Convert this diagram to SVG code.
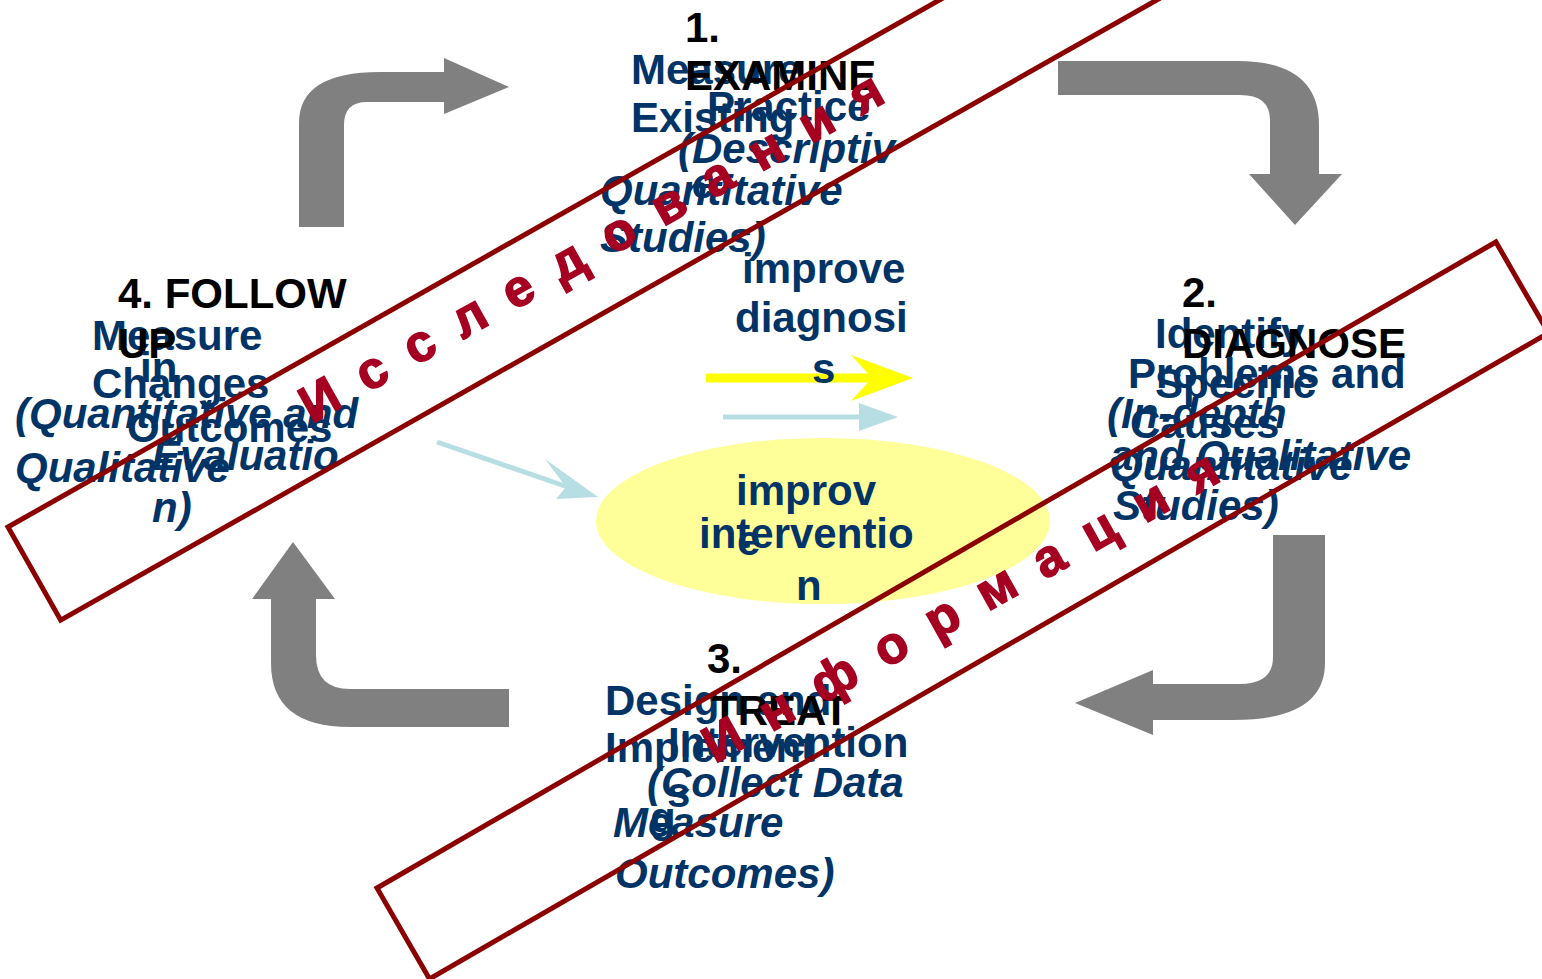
<svg xmlns="http://www.w3.org/2000/svg" width="1542" height="979" viewBox="0 0 1542 979">
<style>
text{font-family:"Liberation Sans",Arial,sans-serif;font-weight:bold;font-size:42px}
.k{fill:#000}
.b{fill:#003366}
.i{fill:#003366;font-style:italic}
.g{fill:#808080}
.stamp{fill:none;stroke:#8B0000;stroke-width:5}
.red{fill:#A50021;stroke:#A50021;stroke-width:1.5;font-size:52px}
</style>
<rect width="1542" height="979" fill="#fff"/>
<g id="connectors">
<path class="g" d="M299,227 L299,123 Q299,72 380,72 L444,72 L444,58 L509,87 L444,114 L444,102 L367,102 Q344,102 344,125 L344,227 Z"/>
<path class="g" d="M1058,61 L1237,61 Q1319,61 1319,125 L1319,174 L1342,174 L1295,225 L1249,174 L1270,174 L1270,120 Q1270,95 1240,95 L1058,95 Z"/>
<path class="g" d="M1273,535 L1325,535 L1325,663 Q1325,720 1233,720 L1153,720 L1153,735 L1075,703 L1153,670 L1153,684 L1240,684 Q1273,684 1273,657 Z"/>
<path class="g" d="M509,689 L350,689 Q316,689 316,655 L316,599 L335,599 L293,542 L252,599 L271,599 L271,663 Q271,727 350,727 L509,727 Z"/>
<line x1="706" y1="378" x2="872" y2="378" stroke="#FFFF00" stroke-width="9"/>
<path d="M851,355 L913,378 L851,401 L872,378 Z" fill="#FFFF00"/>
<line x1="723" y1="417" x2="862" y2="417" stroke="#B7DEE3" stroke-width="5"/>
<path d="M859,403 L898,417 L859,431 Z" fill="#B7DEE3"/>
<line x1="437" y1="442" x2="585" y2="493" stroke="#B7DEE3" stroke-width="5"/>
<path d="M545,459 L598,497 L556,499 L566,487 Z" fill="#B7DEE3"/>
</g>
<g id="node-center">
<ellipse cx="823" cy="521" rx="227" ry="83" fill="#FFFF99"/>
<text class="b" x="742" y="283">improve</text>
<text class="b" x="735" y="332">diagnosi</text>
<text class="b" x="812" y="383">s</text>
<text class="b" x="736" y="505">improv</text>
<text class="b" x="699" y="548">interventio</text>
<text class="b" x="737" y="555">e</text>
<text class="b" x="796" y="600">n</text>
</g>
<g id="node-examine">
<text class="k" x="685" y="42">1.</text>
<text class="b" x="631" y="84">Measure</text>
<text class="k" x="685" y="90">EXAMINE</text>
<text class="b" x="707" y="121">Practice</text>
<text class="b" x="631" y="132">Existing</text>
<text class="i" x="678" y="163">(Descriptiv</text>
<text class="i" x="692" y="198">e</text>
<text class="i" x="600" y="205">Quantitative</text>
<text class="i" x="600" y="252">Studies)</text>
</g>
<g id="node-follow">
<text class="k" x="118" y="308">4. FOLLOW</text>
<text class="b" x="92" y="350">Measure</text>
<text class="k" x="118" y="358">UP</text>
<text class="b" x="140" y="382">in</text>
<text class="b" x="92" y="398">Changes</text>
<text class="i" x="15" y="428">(Quantitative and</text>
<text class="b" x="127" y="442">Outcomes</text>
<text class="i" x="152" y="470">Evaluatio</text>
<text class="i" x="15" y="482">Qualitative</text>
<text class="i" x="152" y="522">n)</text>
</g>
<g id="node-diagnose">
<text class="k" x="1182" y="307">2.</text>
<text class="b" x="1155" y="348">Identify</text>
<text class="k" x="1182" y="358">DIAGNOSE</text>
<text class="b" x="1128" y="388">Problems and</text>
<text class="b" x="1155" y="398">Specific</text>
<text class="i" x="1107" y="428">(In-depth</text>
<text class="b" x="1130" y="438">Causes</text>
<text class="i" x="1110" y="470">and Qualitative</text>
<text class="i" x="1110" y="480">Quantitative</text>
<text class="i" x="1113" y="520">Studies)</text>
</g>
<g id="node-treat">
<text class="k" x="707" y="673">3.</text>
<text class="b" x="605" y="715">Design and</text>
<text class="k" x="712" y="725">TREAT</text>
<text class="b" x="668" y="757">Intervention</text>
<text class="b" x="605" y="762">Implement</text>
<text class="i" x="647" y="797">(Collect Data</text>
<text class="b" x="667" y="807">s</text>
<text class="i" x="613" y="837">Measure</text>
<text class="b" x="650" y="832">g</text>
<text class="i" x="615" y="888">Outcomes)</text>
</g>
<g id="stamp-research">
<rect class="stamp" x="0" y="0" width="1320" height="107" transform="translate(8,527) rotate(-29.5)"/>
<text class="red" transform="translate(312,424) rotate(-29.3)" textLength="660" lengthAdjust="spacing">Исследования</text>
</g>
<g id="stamp-info">
<rect class="stamp" x="0" y="0" width="1292" height="105" transform="translate(377,888) rotate(-30)"/>
<text class="red" transform="translate(715,764) rotate(-29.2)" textLength="582" lengthAdjust="spacing">Информация</text>
</g>
</svg>
